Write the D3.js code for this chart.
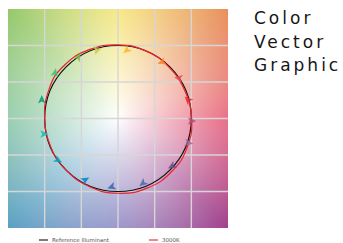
<!DOCTYPE html>
<html>
<head>
<meta charset="utf-8">
<script src="https://cdn.jsdelivr.net/npm/d3@7"></script>
<style>
  body { margin: 0; background: #fff; }
  svg { display: block; }
  .title { font-family: "DejaVu Sans", sans-serif; font-size: 17px; letter-spacing: 3px; fill: #161616; }
  .legend text { font-family: "DejaVu Sans", sans-serif; font-size: 5.5px; fill: #555; }
</style>
</head>
<body>
<svg id="chart" width="343" height="243"></svg>
<script>
// hue bins, 16 of them
const bins = [1, 2, 3, 4, 5, 6, 7, 8, 9, 10, 11, 12, 13, 14, 15, 16];
const binCenter = [11.25, 33.75, 56.25, 78.75, 101.25, 123.75, 146.25, 168.75,
  191.25, 213.75, 236.25, 258.75, 281.25, 303.75, 326.25, 348.75];
const binColors = ["#e62828", "#e74b4b", "#fb812e", "#ffb529", "#cbca46", "#7eb94c", "#41c06d", "#009c7c",
  "#16bcb0", "#00a4bf", "#0085c3", "#3b62aa", "#4568ae", "#6a4e85", "#9d69a1", "#a74f81"];
// normalized chroma of the test source (3000K) per bin
const testRadius = [1.0, 0.99, 1.0, 1.01, 1.02, 1.035, 1.04, 1.015,
  1.0, 1.005, 1.01, 1.025, 1.035, 1.04, 1.035, 1.02];
// arrow heads: where they sit and where they point
const arrowAngle = [14.8, 33.6, 52.1, 82.5, 107, 123, 144.2, 166.3,
  191.8, 214.7, 241.8, 265, 291.2, 318.7, 340.7, 358];
const arrowRadius = [0.99, 1.0, 0.98, 0.945, 0.98, 1.0, 1.06, 1.07,
  1.035, 1.0, 0.955, 0.94, 0.95, 0.985, 1.015, 1.0];
const arrowDir = [135, 170, 200, 220, 250, 60, 80, 90,
  0, -30, 30, 200, 220, 210, -10, 0];
const gridTicks = [-1, -0.5, 0, 0.5, 1];
const titleLines = ["Color", "Vector", "Graphic"];
const legendItems = [{ name: "Reference Illuminant", color: "#111" }, { name: "3000K", color: "#e8242c" }];

// background hue ring (angle -> saturated colour)
const bgAngles = [0, 45, 90, 135, 180, 225, 270, 315, 360];
const bgColors = ["#e23b5c", "#e8905a", "#f3e15c", "#96c86a", "#72bd93", "#5aa0c2", "#7772b9", "#a0408c", "#e23b5c"];

const svg = d3.select("#chart");
const x = d3.scaleLinear().domain([-1.5, 1.5]).range([8, 228]);
const y = d3.scaleLinear().domain([-1.5, 1.5]).range([228, 9]);

// background
const hue = d3.scaleLinear().domain(bgAngles).range(bgColors).interpolate(d3.interpolateLab);
const W = Math.round(x(1.5) - x(-1.5)), H = Math.round(y(-1.5) - y(1.5));
const canvas = document.createElement("canvas");
canvas.width = W; canvas.height = H;
const ctx = canvas.getContext("2d");
const img = ctx.createImageData(W, H);
for (let j = 0; j < H; j++) {
  for (let i = 0; i < W; i++) {
    const u = x.invert(x(-1.5) + i + 0.5), v = y.invert(y(1.5) + j + 0.5);
    let a = Math.atan2(v, u) * 180 / Math.PI;
    if (a < 0) a += 360;
    const r = Math.sqrt(u * u + v * v);
    const t = Math.pow(Math.min(1, r / 2.12), 0.9);
    const c = d3.rgb(d3.interpolateRgb("#ffffff", hue(a))(t));
    const k = (j * W + i) * 4;
    img.data[k] = c.r; img.data[k + 1] = c.g; img.data[k + 2] = c.b; img.data[k + 3] = 255;
  }
}
ctx.putImageData(img, 0, 0);
svg.append("image")
  .attr("x", x(-1.5)).attr("y", y(1.5))
  .attr("width", W).attr("height", H)
  .attr("href", canvas.toDataURL());

// grid
const grid = svg.append("g").attr("stroke", "#d6d6d6").attr("stroke-width", 1.4);
grid.selectAll(".gx").data(gridTicks).join("line")
  .attr("x1", d => x(d)).attr("x2", d => x(d))
  .attr("y1", y(1.5)).attr("y2", y(-1.5));
grid.selectAll(".gy").data(gridTicks).join("line")
  .attr("y1", d => y(d)).attr("y2", d => y(d))
  .attr("x1", x(-1.5)).attr("x2", x(1.5));

// reference circle
svg.append("ellipse")
  .attr("cx", x(0)).attr("cy", y(0))
  .attr("rx", x(1) - x(0)).attr("ry", y(0) - y(1))
  .attr("fill", "none").attr("stroke", "#111").attr("stroke-width", 1.2);

// test line
const rad = d => d * Math.PI / 180;
const testPts = bins.map((b, i) => [x(testRadius[i] * Math.cos(rad(binCenter[i]))), y(testRadius[i] * Math.sin(rad(binCenter[i])))]);
svg.append("path")
  .attr("d", d3.line().curve(d3.curveCardinalClosed.tension(0.3))(testPts))
  .attr("fill", "none").attr("stroke", "#e8242c").attr("stroke-width", 1.2);

// arrows
svg.selectAll(".arrow").data(bins).join("path")
  .attr("class", "arrow")
  .attr("d", "M5,0L-3.5,-3.8L-1.4,0L-3.5,3.8Z")
  .attr("fill", (d, i) => binColors[i])
  .attr("opacity", 0.85)
  .attr("transform", (d, i) => {
    const px = x(arrowRadius[i] * Math.cos(rad(arrowAngle[i])));
    const py = y(arrowRadius[i] * Math.sin(rad(arrowAngle[i])));
    return `translate(${px},${py}) rotate(${-arrowDir[i]})`;
  });

// title
svg.selectAll(".title").data(titleLines).join("text")
  .attr("class", "title")
  .attr("x", 254)
  .attr("y", (d, i) => [24, 47.5, 71][i])
  .text(d => d);

// legend
const lg = svg.append("g").attr("class", "legend");
const lgX = [39, 149];
lg.selectAll("line").data(legendItems).join("line")
  .attr("x1", (d, i) => lgX[i]).attr("x2", (d, i) => lgX[i] + 9)
  .attr("y1", 240).attr("y2", 240)
  .attr("stroke", d => d.color).attr("stroke-width", 1.1);
lg.selectAll("text").data(legendItems).join("text")
  .attr("x", (d, i) => lgX[i] + 13).attr("y", 242)
  .text(d => d.name);
</script>
</body>
</html>
